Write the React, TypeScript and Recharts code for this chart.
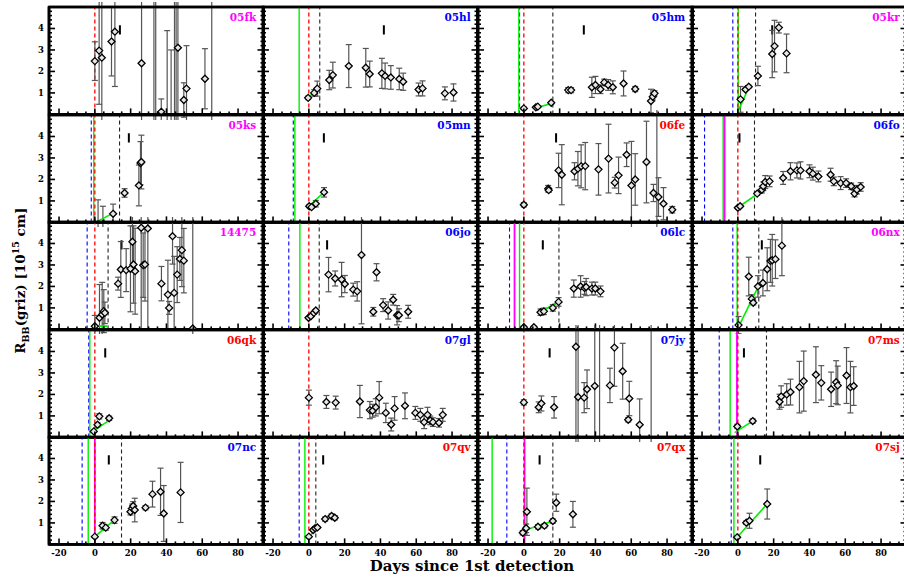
import React from "react";
import { ComposedChart, Scatter, ErrorBar, XAxis, YAxis, ReferenceLine, ReferenceArea } from "recharts";

// axis ticks
const xTicks = [-25, -20, -15, -10, -5, 0, 5, 10, 15, 20, 25, 30, 35, 40, 45, 50, 55, 60, 65, 70, 75, 80, 85, 90];
const xMajor = [-20, 0, 20, 40, 60, 80];
const yTicks = [0.2, 0.4, 0.6, 0.8, 1, 1.2, 1.4, 1.6, 1.8, 2, 2.2, 2.4, 2.6, 2.8, 3, 3.2, 3.4, 3.6, 3.8, 4, 4.2, 4.4, 4.6, 4.8];
const yMajor = [1, 2, 3, 4];

// days since detection (t), radius (r), error (e)
const t05fk = [0, 2.4, 3.9, 9.3, 11.2, 26.1, 33, 34, 37.1, 40.4, 42.6, 44.5, 45.4, 46.4, 49.7, 51.2, 61.5, 65.3];
const r05fk = [2.48, 2.97, 2.64, 3.39, 3.85, 2.38, -0.5, -0.5, 0.12, -0.3, -0.3, -0.5, -0.5, 3.1, 0.67, 1.2, 1.66, -0.5];
const e05fk = [0.9, 2.5, 3, 1.6, 2.55, 3, 6, 6, 0.6, 4.2, 3.3, 6, 6, 3.5, 0.8, 2, 1.4, 6];

const t05hl = [-0.4, 3, 4.7, 11.4, 13.4, 22.3, 31.8, 34, 40.8, 42.6, 45.8, 50.5, 52.7, 61.3, 63.5, 76, 80.8];
const r05hl = [0.77, 1, 1.2, 1.6, 1.83, 2.25, 2.17, 1.88, 1.91, 1.79, 1.72, 1.65, 1.52, 1.16, 1.21, 0.98, 1.02];
const e05hl = [0.08, 0.15, 0.35, 0.45, 0.6, 1, 0.9, 0.6, 0.7, 0.6, 0.55, 0.5, 0.4, 0.3, 0.35, 0.3, 0.4];

const t05hm = [0, 6.7, 7.8, 15.3, 24.8, 26.4, 38, 40, 42.8, 44.9, 47.1, 49.7, 55.7, 62.2, 71, 72, 73];
const r05hm = [0.28, 0.33, 0.36, 0.54, 1.13, 1.13, 1.26, 1.37, 1.17, 1.49, 1.37, 1.26, 1.44, 1.18, 0.62, 0.82, 0.98];
const e05hm = [0.06, 0.05, 0.05, 0.06, 0.12, 0.12, 0.47, 0.4, 0.2, 0.15, 0.25, 0.3, 0.58, 0.12, 0.55, 0.15, 0.12];

const t05kr = [1.5, 4.3, 6.1, 11.2, 19.2, 20.5, 22.9, 27.2];
const r05kr = [0.7, 1.16, 1.29, 1.79, 2.81, 3.18, 4.04, 2.84];
const e05kr = [0.6, 0.06, 0.06, 0.45, 1.1, 1.2, 0.25, 0.9];

const t05ks = [1.8, 4.5, 10.2, 16.6, 24.6, 25.5, 26];
const r05ks = [-0.1, -0.1, 0.4, 1.37, 1.72, 2.76, 2.81];
const e05ks = [1.15, 0.85, 0.45, 0.2, 0.95, 1, 1.25];

const t05mn = [0.2, 1.5, 3.9, 8.5];
const r05mn = [0.75, 0.71, 0.87, 1.4];
const e05mn = [0.06, 0.06, 0.15, 0.22];

const t06fe = [0, 13.6, 13.9, 19.4, 21.2, 28.3, 30.2, 32, 34.3, 41.7, 47.3, 50.8, 52.9, 57.4, 60.1, 62.2, 68.5, 72.4, 74.3, 75.2, 78, 82.9];
const r06fe = [0.82, 1.57, 1.5, 2.42, 2.22, 2.38, 2.5, 2.61, 2.62, 2.47, 2.97, 1.85, 2.19, 3.15, 1.72, 2, 2.81, 1.37, -0.5, 1.18, 0.87, 0.59];
const e06fe = [0.1, 0.15, 0.1, 0.8, 1.4, 0.4, 0.8, 1, 1.1, 1.2, 1.6, 0.25, 0.85, 0.55, 2.05, 1.2, 1.9, 0.4, 6, 0.9, 0.75, 0.15];

const t06fo = [0, 1.3, 10.8, 13.4, 14.2, 15.3, 17.7, 25.3, 29.4, 33, 35, 40, 41.9, 45, 51.8, 53.6, 57.4, 60.5, 63.3, 65.2, 66.5, 68.6];
const r06fo = [0.68, 0.75, 1.34, 1.52, 1.68, 1.88, 1.91, 2.07, 2.38, 2.42, 2.42, 2.38, 2.27, 2.14, 2.22, 1.91, 1.83, 1.83, 1.68, 1.34, 1.52, 1.65];
const e06fo = [0.06, 0.06, 0.08, 0.15, 0.2, 0.3, 0.25, 0.3, 0.4, 0.35, 0.4, 0.3, 0.3, 0.25, 0.3, 0.2, 0.3, 0.2, 0.15, 0.15, 0.2, 0.2];

const t14475 = [0, 2.6, 4.1, 5, 5.6, 13, 14.5, 17.5, 19.9, 21, 21.6, 22.5, 25.9, 27, 28, 29.6, 37.2, 40.8, 41.5, 43.4, 44.3, 46, 47.5, 48.6, 49.7, 54.7];
const r14475 = [0.15, 0.54, 0.69, 0.85, 0.77, 2.13, 2.79, 2.76, 2.82, 4.08, 3.02, 2.71, 4.73, 2.99, 3.02, 4.7, 2.13, 1.62, 1, 4.34, 1.7, 2.55, 3.28, 3.69, 3.2, 0.04];
const e14475 = [0.5, 1.55, 1.5, 1, 0.5, 0.3, 1.3, 1, 2, 1.4, 1.8, 2, 4.7, 1.5, 1.7, 4.7, 0.8, 1.6, 0.3, 1.3, 1.7, 1.3, 1, 1.7, 1.5, 6];

const t06jo = [-0.2, 1.1, 2.8, 3.9, 11, 14.7, 18.3, 20.1, 24.8, 27, 29.4, 36, 37.8, 41.5, 44.3, 47.1, 49.3, 50.3, 55.5];
const r06jo = [0.54, 0.61, 0.77, 0.88, 2.55, 2.37, 2.32, 2.11, 1.85, 1.77, 3.46, 0.82, 2.66, 1.13, 0.88, 1.38, 0.66, 0.66, 0.82];
const e06jo = [0.05, 0.05, 0.05, 0.05, 0.8, 0.35, 0.8, 0.4, 0.3, 0.45, 3.2, 0.2, 0.4, 0.3, 0.4, 0.25, 0.45, 0.3, 0.3];

const t06lc = [0, 5.6, 9.3, 11.2, 16.2, 19.4, 27.9, 31.7, 33.9, 34.8, 38, 39.9, 42.8];
const r06lc = [0.1, 0.1, 0.8, 0.84, 1, 1.28, 1.9, 2, 1.93, 1.97, 1.9, 1.9, 1.77];
const e06lc = [0.05, 0.05, 0.15, 0.15, 0.15, 0.2, 0.4, 0.5, 0.3, 0.4, 0.3, 0.3, 0.25];

const t06nx = [0.4, 6.1, 7.8, 8.6, 11.2, 14, 16.4, 18.2, 19.2, 21, 24.6];
const r06nx = [0.2, 2.46, 1.42, 1.24, 2, 2.16, 2.8, 3.19, 3.22, 3.27, 3.9];
const e06nx = [0.4, 0.9, 0.2, 0.1, 0.5, 0.6, 1, 1, 1.2, 0.9, 1.4];

const t06qk = [-0.6, 1.5, 2.5, 8];
const r06qk = [0.28, 0.59, 0.98, 0.89];
const e06qk = [0.05, 0.1, 0.12, 0.1];

const t07gl = [0, 9.8, 15, 28.5, 34.1, 35.6, 37.4, 39.3, 43, 46, 47.9, 53.7, 59.5, 62.3, 64.4, 66.3, 67.8, 69.3, 72.7, 74.8];
const r07gl = [1.85, 1.65, 1.62, 1.67, 1.27, 1.24, 1.4, 1.85, 1.14, 0.6, 1.35, 1.47, 1.14, 1.05, 0.71, 1.05, 0.79, 0.71, 0.68, 1.05];
const e07gl = [0.35, 0.3, 0.3, 0.75, 0.4, 0.3, 0.4, 0.75, 0.45, 0.3, 0.55, 0.6, 0.3, 0.3, 0.3, 0.35, 0.2, 0.2, 0.2, 0.3];

const t07jy = [0, 8.3, 9.8, 16.9, 29.1, 30.3, 33.7, 35.3, 39.6, 42.3, 48.1, 50.6, 55.2, 58.3, 58.9, 64.7, 71.1];
const r07jy = [1.63, 1.4, 1.58, 1.4, 4.22, 1.88, 1.85, 2.24, 2.39, -0.5, 2.42, 4.18, 3.08, 0.82, 1.81, 0.59, -0.5];
const e07jy = [0.12, 0.25, 0.35, 0.5, 4.5, 3.5, 0.7, 0.9, 3, 6, 0.8, 1.8, 1.3, 0.1, 0.8, 1.2, 6];

const t07ms = [-0.3, 8.3, 23.3, 24.2, 27.3, 29.4, 34.4, 36.8, 43.6, 46.6, 52.1, 54.9, 55.8, 60.7, 62.9, 64.7];
const r07ms = [0.51, 0.76, 1.66, 1.9, 2, 2.11, 2.34, 2.62, 2.92, 2.54, 2.24, 2.57, 2.42, 2.88, 2.34, 2.39];
const e07ms = [0.1, 0.1, 0.35, 0.5, 0.5, 0.6, 1.2, 1.4, 1.3, 0.8, 0.8, 1, 0.9, 1.3, 1.2, 0.9];

const t07nc = [0, 4.3, 6.1, 11, 19.9, 20.9, 21.4, 22.3, 28.3, 32.2, 36.7, 38.5, 47.9];
const r07nc = [0.36, 0.87, 0.78, 1.13, 1.52, 1.68, 1.79, 1.6, 1.71, 2.34, 2.45, 1.44, 2.42];
const e07nc = [0.05, 0.15, 0.12, 0.15, 0.15, 0.2, 0.2, 0.55, 0.1, 0.6, 1.1, 1.3, 1.4];

const t07qv = [0, 2.4, 3.5, 4.8, 9.1, 12.7, 14.5];
const r07qv = [0.36, 0.67, 0.75, 0.79, 1.18, 1.32, 1.24];
const e07qv = [0.05, 0.05, 0.05, 0.05, 0.1, 0.1, 0.1];

const t07qx = [-0.6, 1.3, 1.7, 7.9, 11.5, 16.2, 18.1, 27.4];
const r07qx = [0.54, 0.75, 1.52, 0.82, 0.87, 1.09, 1.94, 1.4];
const e07qx = [0.1, 0.2, 1.1, 0.1, 0.1, 0.1, 0.4, 0.6];

const t07sj = [-0.4, 4.7, 6.5, 16.4];
const r07sj = [0.33, 1.01, 1.1, 1.88];
const e07sj = [0.05, 0.08, 0.35, 0.7];

const MAG = "#ff00ff";
const BLU = "#0000ff";
const RED = "#ff0000";

// name, label colour, data, vertical lines (red/black dashed, green/magenta solid, blue dashed), fit [t1,r1,t2,r2], marker day
const panels: any[] = [
  { name: "05fk", c: MAG, t: t05fk, r: r05fk, e: e05fk, red: 0, mark: 14 },
  { name: "05hl", c: BLU, t: t05hl, r: r05hl, e: e05hl, red: 0, black: 6.1, green: -5.4, fit: [-0.9, 0.71, 5.2, 1.26], mark: 41.9 },
  { name: "05hm", c: BLU, t: t05hm, r: r05hm, e: e05hm, red: 0, black: 16.2, green: -2.8, blue: -2.4, fit: [5.6, 0.28, 15.5, 0.51], mark: 33.5 },
  { name: "05kr", c: MAG, t: t05kr, r: r05kr, e: e05kr, red: 0, black: 9.9, green: 0.2, blue: -2.8, fit: [0, 0.12, 6.5, 1.32], mark: 19.2 },
  { name: "05ks", c: MAG, t: t05ks, r: r05ks, e: e05ks, red: 0, black: 13.8, green: -0.6, blue: -2, fit: [0.4, 0, 10.2, 0.43], mark: 19 },
  { name: "05mn", c: BLU, t: t05mn, r: r05mn, e: e05mn, red: 0, green: -7.8, blue: -8.7, fit: [-0.4, 0.71, 8.5, 1.41], mark: 8.4 },
  { name: "06fe", c: RED, t: t06fe, r: r06fe, e: e06fe, red: 0, mark: 18 },
  { name: "06fo", c: BLU, t: t06fo, r: r06fo, e: e06fo, red: 0, black: 9.3, green: -8.2, magenta: -7.4, blue: -18.6, fit: [-0.4, 0.67, 11.2, 1.34], mark: 0.9 },
  { name: "14475", c: MAG, t: t14475, r: r14475, e: e14475, red: 0, black: 7.4, blue: -4.3, fit: [0, 0.15, 6.9, 0.15], mark: 14.9 },
  { name: "06jo", c: BLU, t: t06jo, r: r06jo, e: e06jo, red: 0, black: 5.8, green: -5, blue: -11.2, fit: [-0.7, 0.49, 4.3, 0.92], mark: 10.2 },
  { name: "06lc", c: BLU, t: t06lc, r: r06lc, e: e06lc, red: 0, black: 19.6, green: -2.4, magenta: -5.2, blue: -8, fit: [9.3, 0.8, 19.4, 1.31], mark: 10.6 },
  { name: "06nx", c: MAG, t: t06nx, r: r06nx, e: e06nx, red: 0, black: 11.7, green: -0.4, blue: -2.8, fit: [-0.9, -0.1, 11.5, 2], mark: 13.4 },
  { name: "06qk", c: RED, t: t06qk, r: r06qk, e: e06qk, red: 0, green: -2.8, blue: -3.4, fit: [-1.2, 0.28, 8, 0.79], mark: 5.8 },
  { name: "07gl", c: BLU, t: t07gl, r: r07gl, e: e07gl, red: 0 },
  { name: "07jy", c: BLU, t: t07jy, r: r07jy, e: e07jy, red: 0, mark: 14.4 },
  { name: "07ms", c: RED, t: t07ms, r: r07ms, e: e07ms, red: 0, black: 16, green: -4.3, magenta: -0.5, blue: -10.4, fit: [-1.8, 0.22, 8.9, 0.79], mark: 3.4 },
  { name: "07nc", c: BLU, t: t07nc, r: r07nc, e: e07nc, red: 0, black: 14.9, green: -3.7, magenta: 0, blue: -7.1, fit: [0, 0.36, 11.5, 1.18], mark: 7.8 },
  { name: "07qv", c: RED, t: t07qv, r: r07qv, e: e07qv, red: 0, black: 3.9, green: -2.2, blue: -5.4, fit: [0, 0.33, 4.8, 0.82], mark: 8 },
  { name: "07qx", c: RED, t: t07qx, r: r07qx, e: e07qx, red: 0, black: 16.2, green: -17.7, magenta: 0.4, blue: -9.5, fit: [0.9, 0.67, 16.2, 1.09], mark: 8.8 },
  { name: "07sj", c: RED, t: t07sj, r: r07sj, e: e07sj, red: 0, green: -2.2, blue: -3.7, fit: [-0.4, 0.33, 16.4, 1.88], mark: 12.5 },
];

const FONT = "'DejaVu Serif', serif";
const X_DOMAIN = [-25.6, 94.2];
const Y_DOMAIN = [0, 5];
const PX = [48.7, 263.2, 477.7, 692.2];
const PW = 214.5;
const PY0 = 7.3;
const PH = 107.4;
const YW = 30;
const XH = 20;

const len = (major: boolean) => (major ? 6 : 3);

const xTick = (side: string, label: boolean) => (p: any) => {
  const v = p.payload?.value;
  const major = xMajor.includes(v);
  const d = side === "b" ? -1 : 1;
  return (
    <g>
      <line x1={p.x} x2={p.x} y1={p.y} y2={p.y + d * len(major)} stroke="#000" strokeWidth={1.6} />
      {label && major ? (
        <text x={p.x} y={p.y + 11.3} textAnchor="middle" fontSize={8.5} fontWeight="bold" fontFamily={FONT} fill="#000">
          {v}
        </text>
      ) : null}
    </g>
  );
};

const yTick = (side: string, label: boolean) => (p: any) => {
  const v = p.payload?.value;
  const major = yMajor.includes(v);
  const d = side === "l" ? 1 : -1;
  return (
    <g>
      <line x1={p.x} x2={p.x + d * len(major)} y1={p.y} y2={p.y} stroke="#000" strokeWidth={1.6} />
      {label && major ? (
        <text x={p.x - 5} y={p.y + 3} textAnchor="end" fontSize={8.5} fontWeight="bold" fontFamily={FONT} fill="#000">
          {v}
        </text>
      ) : null}
    </g>
  );
};

const Diamond = (p: any) => {
  const { cx, cy } = p;
  if (cx == null || cy == null) return null;
  const s = 3.5;
  return (
    <path
      d={`M${cx},${cy - s}L${cx + s},${cy}L${cx},${cy + s}L${cx - s},${cy}Z`}
      fill="#e6e6e6"
      stroke="#000"
      strokeWidth={1.3}
    />
  );
};

const axisLine = { stroke: "#000", strokeWidth: 2.6 };

function Panel({ p, row, col }: any) {
  // every axis gets at least 1px so that it is drawn
  const yw = col === 0 ? YW : 1;
  const xh = row === 4 ? XH : 1;
  const left = PX[col];
  const top = PY0 + row * PH;
  const pts = p.t.map((t: number, i: number) => ({ t, r: p.r[i], e: p.e[i] }));
  const vl = (x: number | undefined, stroke: string, dash: string | undefined, w: number) =>
    x === undefined ? null : (
      <ReferenceLine xAxisId="b" yAxisId="l" x={x} stroke={stroke} strokeDasharray={dash} strokeWidth={w} />
    );
  return (
    <>
      <div style={{ position: "absolute", left: left - 4 - yw, top: top - 5 }}>
        <ComposedChart width={PW + 9 + yw} height={PH + 9 + xh} margin={{ top: 4, right: 4, bottom: 4, left: 4 }}>
          <XAxis xAxisId="b" dataKey="t" type="number" domain={X_DOMAIN} allowDataOverflow ticks={xTicks} interval={0}
            height={xh} tickSize={0} tickMargin={0} tick={xTick("b", row === 4)} axisLine={axisLine} />
          <XAxis xAxisId="t" orientation="top" type="number" domain={X_DOMAIN} allowDataOverflow ticks={xTicks} interval={0}
            height={1} tickSize={0} tickMargin={0} tick={xTick("t", false)} axisLine={axisLine} />
          <YAxis yAxisId="l" dataKey="r" type="number" domain={Y_DOMAIN} allowDataOverflow ticks={yTicks} interval={0}
            width={yw} tickSize={0} tickMargin={0} tick={yTick("l", col === 0)} axisLine={axisLine} />
          <YAxis yAxisId="r" orientation="right" type="number" domain={Y_DOMAIN} allowDataOverflow ticks={yTicks} interval={0}
            width={1} tickSize={0} tickMargin={0} tick={yTick("r", false)} axisLine={axisLine} />
          {vl(p.blue, BLU, "4 3", 1.1)}
          {vl(p.green, "#00ee00", undefined, 1.4)}
          {vl(p.magenta, "#ff00ff", undefined, 1.8)}
          {vl(p.black, "#222", "4 3", 1.1)}
          {vl(p.red, RED, "4 3", 1.3)}
          {p.mark !== undefined ? (
            <ReferenceLine xAxisId="b" yAxisId="l" segment={[{ x: p.mark, y: 3.72 }, { x: p.mark, y: 4.15 }]}
              stroke="#000" strokeWidth={2} />
          ) : null}
          <Scatter xAxisId="b" yAxisId="l" data={pts} dataKey="r" shape={Diamond} isAnimationActive={false}>
            <ErrorBar dataKey="e" direction="y" width={3} stroke="#555" strokeWidth={1.2} isAnimationActive={false} />
          </Scatter>
          {p.fit ? (
            <ReferenceLine xAxisId="b" yAxisId="l" ifOverflow="hidden"
              segment={[{ x: p.fit[0], y: p.fit[1] }, { x: p.fit[2], y: p.fit[3] }]}
              stroke="#00ee00" strokeWidth={1.6} />
          ) : null}
          <ReferenceArea xAxisId="b" yAxisId="l" x1={X_DOMAIN[0]} x2={X_DOMAIN[1]} y1={Y_DOMAIN[0]} y2={Y_DOMAIN[1]}
            fill="none" fillOpacity={0} stroke="#000" strokeWidth={2.6} />
        </ComposedChart>
      </div>
      <div
        style={{
          position: "absolute", left: left, top: top + 4, width: PW - 7, textAlign: "right",
          fontFamily: FONT, fontWeight: "bold", fontSize: 10.5, lineHeight: "12px", color: p.c,
        }}
      >
        {p.name}
      </div>
    </>
  );
}

export default function App() {
  return (
    <div style={{ position: "absolute", left: 0, top: 0, width: 904, height: 579, background: "#fff", overflow: "hidden" }}>
      {panels.map((p, i) => (
        <Panel key={p.name} p={p} row={Math.floor(i / 4)} col={i % 4} />
      ))}
      <div
        style={{
          position: "absolute", left: 21 - 110, top: 276 - 10, width: 220, textAlign: "center",
          transform: "rotate(-90deg)", fontFamily: FONT, fontWeight: "bold", fontSize: 13.5, lineHeight: "20px", color: "#000",
        }}
      >
        R<sub style={{ fontSize: 9.5 }}>BB</sub>(griz) [10<sup style={{ fontSize: 9.5 }}>15</sup> cm]
      </div>
      <div
        style={{
          position: "absolute", left: 272, top: 559, width: 400, textAlign: "center",
          fontFamily: FONT, fontWeight: "bold", fontSize: 15, lineHeight: "14px", color: "#000",
        }}
      >
        Days since 1st detection
      </div>
    </div>
  );
}
